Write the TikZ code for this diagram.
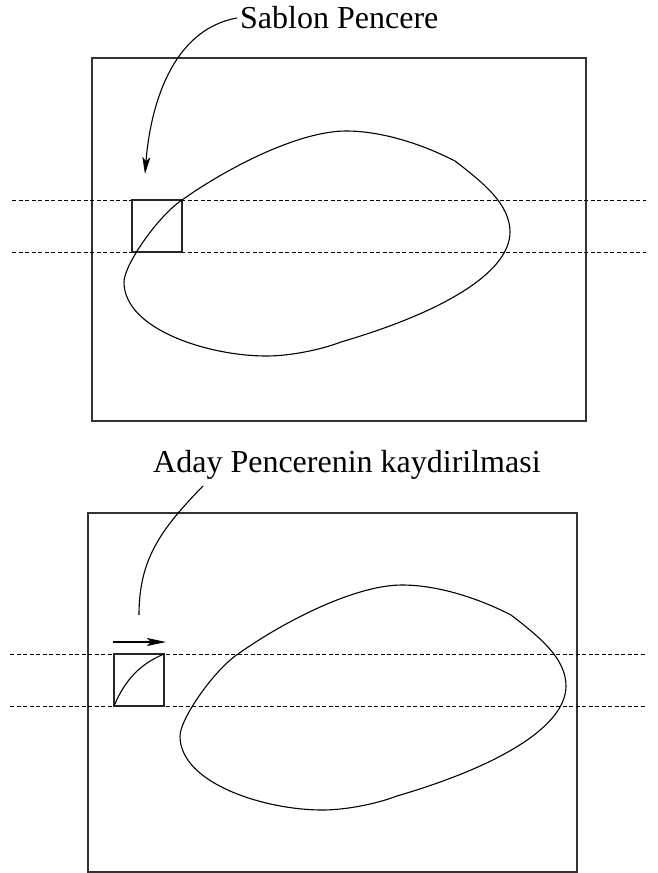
\documentclass[tikz,border=0pt]{standalone}
\usepackage{fontspec}
\setmainfont{Liberation Serif}
\usetikzlibrary{arrows.meta}
\begin{document}
\begin{tikzpicture}[x=1pt,y=-1pt,
  frame/.style={draw=black!80,line width=1.2pt},
  guide/.style={draw=black,line width=0.9pt,dash pattern=on 4pt off 2.5pt},
  win/.style={draw=black!85,line width=1.2pt,minimum width=50pt,minimum height=52pt,inner sep=0pt,outer sep=0pt,anchor=north west},
  blob/.style={draw=black,line width=1.1pt},
  lbl/.style={font=\fontsize{32pt}{36pt}\selectfont,inner sep=0pt,anchor=base west},
  conn/.style={draw=black,line width=1.1pt}]
\useasboundingbox (0,0) rectangle (658,873);
\def\blobpath{(124,282) .. controls (124,265) and (158,216) .. (182,200)
  .. controls (230,166) and (300,131) .. (346,131)
  .. controls (380,131) and (420,143) .. (455,161)
  .. controls (485,184) and (510,205) .. (510,232)
  .. controls (510,270) and (450,310) .. (341,342)
  .. controls (320,350) and (290,356) .. (266,356)
  .. controls (210,356) and (124,330) .. cycle}
% ---------- top panel ----------
\draw[frame] (92,58) rectangle (586,421);
\draw[guide] (12,200) -- (646,200);
\draw[guide] (12,252) -- (646,252);
\node[win] (w1) at (132,200) {};
\draw[blob] \blobpath;
\node[lbl] (t1) at (240,28) {Sablon Pencere};
\coordinate (a1s) at (237,18);
\coordinate (a1e) at (145,174);
\draw[conn,-{Stealth[length=17pt,width=8pt,inset=4pt]}] (a1s) .. controls (170,30) and (150,110) .. (a1e);
% ---------- bottom panel ----------
\draw[frame] (88,513) rectangle (577,872);
\draw[guide] (10,654) -- (646,654);
\draw[guide] (10,706) -- (646,706);
\node[win] (w2) at (114,654) {};
\draw[blob] (w2.south west) .. controls (125,680) and (140,664) .. (w2.north east);
\begin{scope}[shift={(56,454)}]
\draw[blob] \blobpath;
\end{scope}
\node[lbl] (t2) at (153,472) {Aday Pencerenin kaydirilmasi};
\coordinate (c2s) at (203,486);
\coordinate (c2e) at (139,615);
\draw[conn] (c2s) .. controls (160,530) and (139,560) .. (c2e);
\coordinate (m1) at (113,642);
\coordinate (m2) at (166,642);
\draw[conn,-{Stealth[length=19pt,width=8pt,inset=4pt]}] (m1) -- (m2);
\end{tikzpicture}
\end{document}
